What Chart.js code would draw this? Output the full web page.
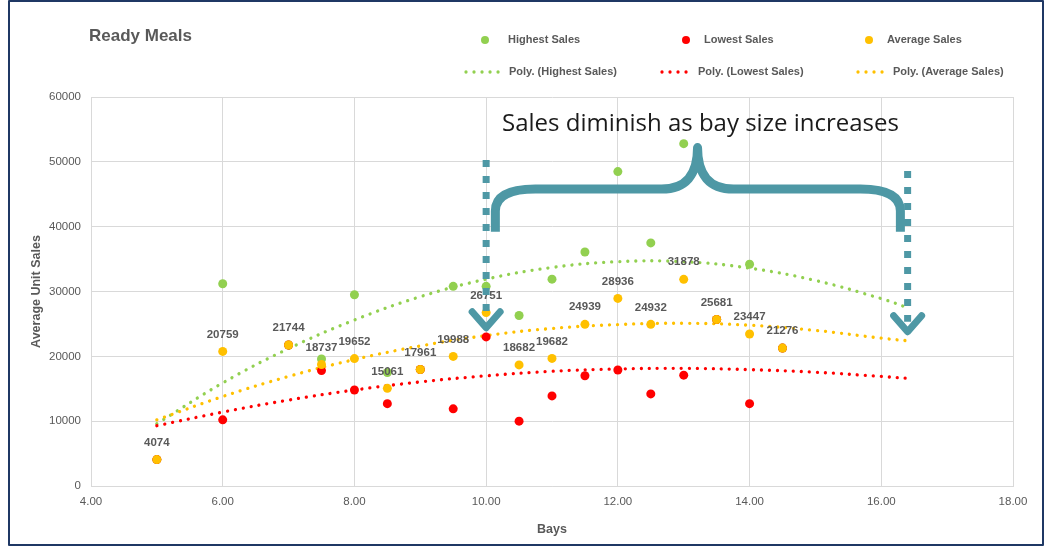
<!DOCTYPE html>
<html><head><meta charset="utf-8">
<script src="https://cdn.jsdelivr.net/npm/chart.js@4.4.1/dist/chart.umd.min.js"></script>
<style>
html,body{margin:0;padding:0;background:#fff;overflow:hidden}
#wrap{position:relative;width:1045px;height:547px}
</style></head>
<body><div id="wrap"><canvas id="c" width="1045" height="547"></canvas></div>
<script>
// ---- data ----
const bays          = [5, 6, 7, 7.5, 8, 8.5, 9, 9.5, 10, 10.5, 11, 11.5, 12, 12.5, 13, 13.5, 14, 14.5];
const averageSales  = [4074, 20759, 21744, 18737, 19652, 15061, 17961, 19988, 26751, 18682, 19682, 24939, 28936, 24932, 31878, 25681, 23447, 21276];
const highestSales  = [4074, 31200, 21744, 19600, 29500, 17500, 17961, 30800, 30800, 26300, 31900, 36100, 48500, 37500, 52800, 25681, 34200, 21276];
const lowestSales   = [4074, 10200, 21744, 17800, 14800, 12700, 17961, 11900, 23000, 10000, 13900, 17000, 17900, 14200, 17100, 25681, 12700, 21276];
// trendline values
const trendBays     = [5, 6, 7, 8, 9, 10, 11, 12, 13, 14, 15, 16, 16.4];
const polyHighest   = [9600, 15900, 21200, 25600, 29200, 31900, 33700, 34600, 34600, 33600, 31700, 28900, 27500];
const polyAverage   = [10200, 13800, 16900, 19500, 21600, 23200, 24300, 24900, 25100, 24800, 24000, 22800, 22400];
const polyLowest    = [9300, 11400, 13250, 14800, 16050, 17000, 17700, 18050, 18150, 17950, 17550, 16900, 16600];
const xTicks = [4, 6, 8, 10, 12, 14, 16, 18];
const yTicks = [0, 10000, 20000, 30000, 40000, 50000, 60000];
const chartTitle = 'Ready Meals';
const noteText = 'Sales diminish as bay size increases';

const GREEN = '#92D050', RED = '#FF0000', ORANGE = '#FFC000', TEAL = '#4E98A5', GREY = '#595959';
const FONT = '"Liberation Sans", Arial, sans-serif';

const pts = (xs, ys) => xs.map((v, i) => ({x: v, y: ys[i]}));
const scatterSet = (label, ys, color, order) => ({
  label, data: pts(bays, ys), backgroundColor: color, borderColor: color,
  pointRadius: 4.5, pointBorderWidth: 0, showLine: false, order
});
const trendSet = (label, ys, color, order) => ({
  label, data: pts(trendBays, ys), borderColor: color, backgroundColor: color,
  showLine: true, pointRadius: 0, borderWidth: 3.3, borderDash: [0.01, 8],
  borderCapStyle: 'round', tension: 0.4, fill: false, order
});

const overlay = {
  id: 'overlay',
  afterDatasetsDraw(chart) {
    const ctx = chart.ctx;
    // data labels on Average series
    const meta = chart.getDatasetMeta(0);
    ctx.save();
    ctx.font = 'bold 11.5px ' + FONT;
    ctx.fillStyle = GREY;
    ctx.textAlign = 'center';
    ctx.textBaseline = 'middle';
    meta.data.forEach((p, i) => ctx.fillText(String(averageSales[i]), p.x, p.y - 17));
    ctx.restore();
  },
  afterDraw(chart) {
    const ctx = chart.ctx;
    const xs = chart.scales.x, ys = chart.scales.y;
    const X = v => xs.getPixelForValue(v), Y = v => ys.getPixelForValue(v);
    ctx.save();
    // title
    ctx.font = 'bold 17px ' + FONT;
    ctx.fillStyle = GREY;
    ctx.textBaseline = 'middle';
    ctx.textAlign = 'left';
    ctx.fillText(chartTitle, 89, 36);

    // legend
    const sets = chart.data.datasets;
    const row1 = [[2, 485, 508], [1, 686, 704], [0, 869, 887]];
    const row2 = [[3, 466, 504, 509], [4, 662, 694, 698], [5, 858, 889, 893]];
    ctx.font = 'bold 11px ' + FONT;
    row1.forEach(([di, dx, tx]) => {
      ctx.fillStyle = sets[di].backgroundColor;
      ctx.beginPath(); ctx.arc(dx, 40, 4, 0, Math.PI * 2); ctx.fill();
      ctx.fillStyle = GREY; ctx.fillText(sets[di].label, tx, 40);
    });
    row2.forEach(([di, x1, x2, tx]) => {
      ctx.strokeStyle = sets[di].borderColor;
      ctx.lineWidth = 3.3; ctx.lineCap = 'round'; ctx.setLineDash([0.01, 8]);
      ctx.beginPath(); ctx.moveTo(x1, 72); ctx.lineTo(x2, 72); ctx.stroke();
      ctx.setLineDash([]);
      ctx.fillStyle = GREY; ctx.fillText(sets[di].label, tx, 72);
    });

    // annotation: dashed arrows
    ctx.strokeStyle = TEAL;
    const arrow = (xv, topV, tipV) => {
      const x = X(xv), yt = Y(topV), ya = Y(tipV);
      ctx.lineWidth = 7; ctx.lineCap = 'butt'; ctx.setLineDash([7, 9]);
      ctx.beginPath(); ctx.moveTo(x, yt); ctx.lineTo(x, ya - 10); ctx.stroke();
      ctx.setLineDash([]);
      ctx.lineWidth = 7; ctx.lineCap = 'round'; ctx.lineJoin = 'round';
      ctx.beginPath(); ctx.moveTo(x - 14, ya - 16); ctx.lineTo(x, ya); ctx.lineTo(x + 14, ya - 16); ctx.stroke();
    };
    arrow(10, 50300, 24400);
    arrow(16.4, 48600, 23800);

    // brace
    const L = X(10.14), R = X(16.29), C = X(13.21);
    const yb = Y(39200), yh = Y(45800), yt = Y(52200);
    ctx.lineWidth = 9; ctx.lineCap = 'butt'; ctx.lineJoin = 'round';
    ctx.beginPath();
    ctx.moveTo(L, yb);
    ctx.lineTo(L, yh + 22);
    ctx.quadraticCurveTo(L, yh, L + 40, yh);
    ctx.lineTo(C - 36, yh);
    ctx.quadraticCurveTo(C, yh, C, yt);
    ctx.quadraticCurveTo(C, yh, C + 36, yh);
    ctx.lineTo(R - 40, yh);
    ctx.quadraticCurveTo(R, yh, R, yh + 22);
    ctx.lineTo(R, yb);
    ctx.stroke();

    // annotation text
    let fs = 22;
    ctx.font = fs + 'px "Open Sans", sans-serif';
    const w = ctx.measureText(noteText).width;
    fs = fs * 397 / w;
    ctx.font = fs.toFixed(2) + 'px "Open Sans", sans-serif';
    ctx.fillStyle = '#1a1a1a';
    ctx.textBaseline = 'alphabetic';
    ctx.fillText(noteText, 502, 131);

    // frame
    ctx.strokeStyle = '#1F3864';
    ctx.lineWidth = 2;
    ctx.strokeRect(9, 1, 1034, 544);
    ctx.restore();
  }
};

new Chart(document.getElementById('c'), {
  type: 'scatter',
  data: {
    datasets: [
      scatterSet('Average Sales', averageSales, ORANGE, 0),
      scatterSet('Lowest Sales', lowestSales, RED, 1),
      scatterSet('Highest Sales', highestSales, GREEN, 2),
      trendSet('Poly. (Highest Sales)', polyHighest, GREEN, 5),
      trendSet('Poly. (Lowest Sales)', polyLowest, RED, 4),
      trendSet('Poly. (Average Sales)', polyAverage, ORANGE, 3)
    ]
  },
  options: {
    responsive: false, animation: false, events: [],
    layout: {padding: {left: 12, right: 32, top: 97, bottom: 0}},
    plugins: {legend: {display: false}, tooltip: {enabled: false}},
    scales: {
      x: {
        type: 'linear', min: 4, max: 18,
        afterBuildTicks: s => { s.ticks = xTicks.map(v => ({value: v})); },
        afterFit: s => { s.height = 61; },
        ticks: {padding: 9, color: GREY, font: {family: FONT, size: 11.5}, callback: v => Number(v).toFixed(2), maxRotation: 0},
        grid: {color: '#d9d9d9', drawTicks: false},
        border: {color: '#d9d9d9'},
        title: {display: true, text: 'Bays', color: GREY, font: {family: FONT, size: 12.5, weight: 'bold'}, padding: {top: 0, bottom: 9.5}}
      },
      y: {
        type: 'linear', min: 0, max: 60000,
        afterBuildTicks: s => { s.ticks = yTicks.map(v => ({value: v})); },
        afterFit: s => { s.width = 79; },
        ticks: {padding: 10, color: GREY, font: {family: FONT, size: 11.5}, callback: v => String(v)},
        grid: {color: '#d9d9d9', drawTicks: false},
        border: {color: '#d9d9d9'},
        title: {display: true, text: 'Average Unit Sales', color: GREY, font: {family: FONT, size: 12.5, weight: 'bold'}, padding: {top: 17.5, bottom: 0}}
      }
    }
  },
  plugins: [overlay]
});
</script>
</body></html>
